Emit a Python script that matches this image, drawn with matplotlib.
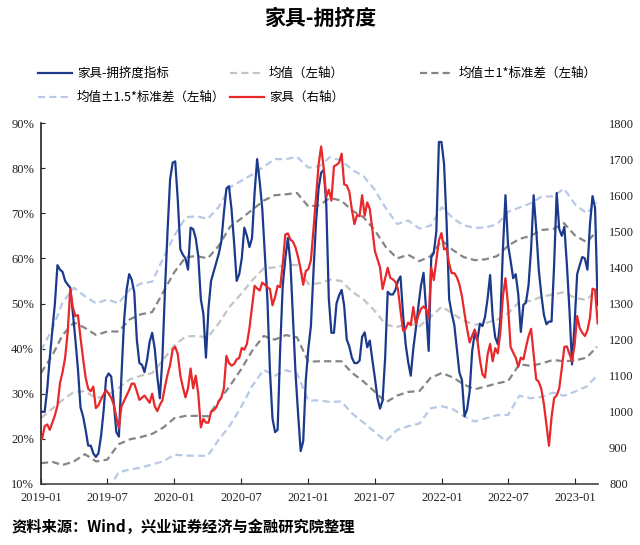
import matplotlib
matplotlib.use("Agg")
import numpy as np
import pandas as pd
import matplotlib.pyplot as plt
import matplotlib.dates as mdates
from matplotlib.lines import Line2D
from matplotlib.ticker import FuncFormatter, MultipleLocator

plt.rcParams['font.family'] = ['Noto Sans CJK SC', 'DejaVu Sans']

# weekly series, first week 2019-01-04
week_start = "2019-01-04"
crowding = [
    26, 26, 31, 38, 44, 50, 58.5, 57.5, 57, 55,
    54.2, 53.5, 48, 42, 35.5, 27, 25, 22, 18.5, 18.5,
    16.8, 16, 16.8, 20.5, 26, 33.5, 34.5, 33.8, 28, 21.5,
    20.5, 34, 46, 53, 56.5, 55.3, 52.5, 42, 36.8, 36.4,
    34.8, 37.5, 41.5, 43.5, 40, 33.8, 29, 38, 53, 66,
    77.5, 81.2, 81.5, 73, 62, 60.8, 60, 57.5, 66.8, 66.5,
    64.5, 60.5, 51, 47.7, 38, 49, 55, 57, 59, 61,
    63.7, 70, 75.5, 76, 70.8, 63.5, 55, 56.5, 60, 66.8,
    65, 62.5, 64.5, 74.5, 82, 77, 71, 61, 51, 35,
    24.5, 21.5, 22, 40, 54, 60, 64.5, 59, 47, 34.5,
    25.5, 17.3, 19.5, 33, 40, 45, 57, 68, 75.5, 79,
    79.6, 72, 51, 43.5, 43.5, 50, 51.8, 53, 49.5, 42,
    40.5, 38, 36.8, 36.8, 37.3, 42.6, 43.6, 40.3, 41.8, 37.5,
    33.5, 29, 26.7, 28.5, 38, 52.6, 52, 52, 53, 55,
    56, 47.5, 41, 37, 34, 40, 44.5, 49.5, 54, 56.8,
    48.5, 39.5, 60.2, 61.2, 66, 85.8, 85.8, 81, 68, 51,
    47.8, 45.3, 40, 34.7, 33, 25, 26.5, 30.5, 39.5, 43.5,
    41.8, 45.5, 45, 47, 51, 56.3, 47, 42.5, 41, 46.5,
    62, 74, 63, 59.5, 55.6, 56.5, 52, 43.7, 49.7, 50.2,
    54, 62, 74, 66.5, 57.5, 52, 47.5, 45.4, 46, 46,
    58.5, 74.5, 66.5, 65, 67, 58.5, 48.5, 36.5, 45.5, 56.5,
    58.5, 60.3, 60, 57.5, 67.5, 73.8, 71.2, 49.7,
]
furniture = [
    925, 960, 965, 950, 970, 990, 1017, 1080, 1110, 1150,
    1221, 1340, 1290, 1265, 1268, 1205, 1148, 1095, 1064, 1057,
    1070, 1010, 1018, 1034, 1048, 1060, 1050, 1039, 1020, 985,
    955, 1015, 1030, 1045, 1060, 1078, 1078, 1057, 1033, 1039,
    1045, 1035, 1025, 1050, 1015, 1002, 1019, 1032, 1070, 1103,
    1130, 1172, 1180, 1160, 1100, 1068, 1040, 1065, 1120, 1065,
    1100, 1050, 957, 980, 970, 970, 1000, 1004, 1012, 1029,
    1039, 1065, 1155, 1135, 1128, 1132, 1145, 1149, 1177, 1172,
    1188, 1232, 1290, 1349, 1342, 1336, 1358, 1352, 1345, 1340,
    1295, 1318, 1349, 1345, 1410, 1491, 1494, 1477, 1471, 1455,
    1428, 1395, 1352, 1390, 1395, 1420, 1505, 1595, 1685, 1735,
    1675, 1595, 1615, 1585, 1680, 1684, 1690, 1715, 1630, 1627,
    1610, 1560, 1520, 1545, 1542, 1600, 1543, 1580, 1562, 1505,
    1445, 1422, 1400, 1340, 1370, 1399, 1371, 1367, 1360, 1340,
    1280, 1225, 1230, 1247, 1240, 1290, 1243, 1267, 1285, 1292,
    1284, 1260, 1400, 1365, 1420, 1475, 1495, 1450, 1453, 1410,
    1384, 1384, 1373, 1353, 1320, 1272, 1230, 1192, 1211, 1228,
    1200, 1145, 1104, 1095, 1158, 1188, 1140, 1176, 1162, 1220,
    1320, 1370, 1295, 1180, 1164, 1150, 1125, 1150, 1145, 1178,
    1209, 1230, 1160, 1090, 1083, 1063, 1022, 964, 906, 985,
    1038, 1045, 1065, 1120, 1180, 1181, 1160, 1140, 1185, 1265,
    1232, 1219, 1210, 1225, 1260, 1341, 1338, 1245,
]

# monthly rolling mean / std of the crowding index, first month 2019-01
month_start = "2019-01-01"
band_mean = [
    24.6, 26.7, 28.6, 30.4, 30.6, 29.0, 29.6, 31.3, 33.2, 34.0,
    34.6, 37.5, 40.8, 42.7, 42.8, 42.5, 45.6, 49.4, 52.1, 55.2,
    57.8, 58.0, 58.6, 58.5, 54.3, 54.5, 55.3, 55.0, 52.6, 50.9,
    48.4, 45.3, 44.8, 45.6, 45.0, 47.0, 49.3, 47.7, 46.2, 45.3,
    45.7, 46.4, 47.8, 50.4, 50.6, 51.5, 52.0, 52.5, 51.2, 50.8,
    53.2,
]
band_std = [
    10.0, 11.8, 14.4, 15.4, 14.0, 14.0, 14.2, 12.5, 13.3, 13.6,
    13.5, 15.0, 16.2, 17.6, 17.7, 17.5, 17.2, 17.6, 16.7, 15.6,
    15.0, 16.0, 15.6, 16.0, 17.2, 17.3, 18.1, 17.8, 18.0, 18.2,
    17.9, 17.2, 15.2, 15.2, 14.4, 13.5, 14.7, 14.1, 14.1, 14.3,
    14.1, 14.1, 15.0, 13.9, 14.4, 14.8, 14.5, 15.3, 13.8, 12.8,
    12.8,
]

labels = ["家具-拥挤度指标", "均值（左轴）", "均值±1*标准差（左轴）",
          "均值±1.5*标准差（左轴）", "家具（右轴）"]

C_BLUE = "#1b3a8c"
C_RED = "#e8282b"
C_MEAN = "#c4c4c4"
C_STD1 = "#858585"
C_STD15 = "#b7c9e6"
DASH = (0, (3.2, 1.9))


def main():
    weeks = pd.date_range(week_start, periods=len(crowding), freq="7D")
    months = pd.date_range(month_start, periods=len(band_mean), freq="MS")
    mean = np.array(band_mean)
    std = np.array(band_std)

    fig = plt.figure(figsize=(6.4, 5.45), dpi=100)
    ax = fig.add_axes([41 / 640, 61 / 545, 557 / 640, 361 / 545])
    ax2 = ax.twinx()

    lw = 1.6
    ax.plot(months, mean + 1.5 * std, color=C_STD15, lw=lw, ls=DASH)
    ax.plot(months, mean - 1.5 * std, color=C_STD15, lw=lw, ls=DASH)
    ax.plot(months, mean, color=C_MEAN, lw=lw, ls=DASH)
    ax.plot(months, mean + std, color=C_STD1, lw=lw, ls=DASH)
    ax.plot(months, mean - std, color=C_STD1, lw=lw, ls=DASH)
    ax.plot(weeks, crowding, color=C_BLUE, lw=lw)
    ax2.plot(weeks, furniture, color=C_RED, lw=lw)

    ax.set_xlim(pd.Timestamp("2019-01-01"), pd.Timestamp("2023-03-04"))
    ax.set_ylim(10, 90)
    ax2.set_ylim(800, 1800)
    ax.yaxis.set_major_locator(MultipleLocator(10))
    ax.yaxis.set_major_formatter(FuncFormatter(lambda v, p: f"{v:.0f}%"))
    ax2.yaxis.set_major_locator(MultipleLocator(100))
    ax.xaxis.set_major_locator(mdates.MonthLocator(bymonth=[1, 7]))
    ax.xaxis.set_major_formatter(mdates.DateFormatter("%Y-%m"))

    for a in (ax, ax2):
        a.spines["top"].set_visible(False)
        a.spines["right"].set_visible(False)
    ax2.spines["left"].set_visible(False)
    ax2.spines["bottom"].set_visible(False)
    ax.spines["left"].set_color("#222222")
    ax.spines["bottom"].set_color("#444444")
    ax.spines["left"].set_linewidth(1.2)
    ax.spines["bottom"].set_linewidth(1.2)

    ax.tick_params(axis="x", direction="in", length=4, pad=6, labelsize=9,
                   labelfontfamily="Liberation Serif", colors="#222222")
    ax.tick_params(axis="y", direction="in", length=3, pad=5, labelsize=9,
                   labelfontfamily="Liberation Serif", colors="#222222")
    ax2.tick_params(axis="y", length=0, pad=8, labelsize=9,
                    labelfontfamily="Liberation Serif", colors="#222222")

    fig.text(0.5, 1 - 18 / 545, "家具-拥挤度", ha="center", va="center",
             fontsize=15, fontweight="bold")
    fig.text(12 / 640, 1 - 527 / 545, "资料来源：Wind，兴业证券经济与金融研究院整理",
             ha="left", va="center", fontsize=11, fontweight="bold")

    # legend laid out like the original: 3 equal columns, row-major
    styles = [
        dict(color=C_BLUE, ls="-"),
        dict(color=C_MEAN, ls=DASH),
        dict(color=C_STD1, ls=DASH),
        dict(color=C_STD15, ls=DASH),
        dict(color=C_RED, ls="-"),
    ]
    col_x = [38, 230, 420]
    row_y = [73, 97]
    for k, (lab, st) in enumerate(zip(labels, styles)):
        x0 = col_x[k % 3]
        y0 = 1 - row_y[k // 3] / 545
        fig.add_artist(Line2D([x0 / 640, (x0 + 34) / 640], [y0, y0],
                              transform=fig.transFigure, lw=lw, **st))
        fig.text((x0 + 39) / 640, y0, lab, ha="left", va="center", fontsize=9)

    fig.savefig("out.png", dpi=100)


if __name__ == "__main__":
    main()
